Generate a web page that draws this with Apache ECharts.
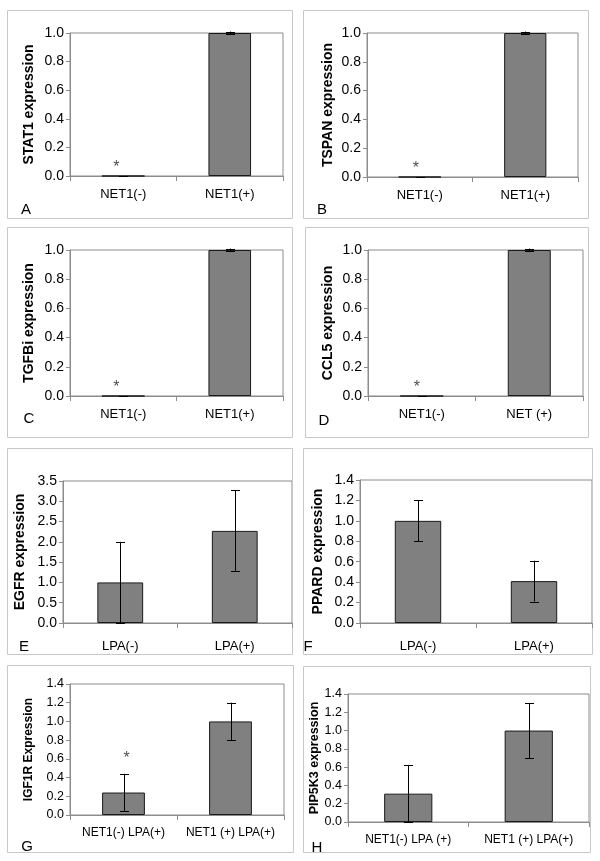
<!DOCTYPE html>
<html><head><meta charset="utf-8">
<script src="https://cdn.jsdelivr.net/npm/echarts/dist/echarts.min.js"></script>
<style>html,body{margin:0;padding:0;background:#fff}#c{width:600px;height:861px}</style>
</head><body><div id="c"></div>
<script>
// ---- data ----
const catsNet = ['NET1(-)', 'NET1(+)'];
const catsCcl5 = ['NET1(-)', 'NET (+)'];
const catsLpa = ['LPA(-)', 'LPA(+)'];
const catsIgf = ['NET1(-) LPA(+)', 'NET1 (+) LPA(+)'];
const catsPip = ['NET1(-) LPA (+)', 'NET1 (+) LPA(+)'];

const stat1Vals = [0, 1.0];   const stat1Err = [0, 0.01];  const stat1Star = [0.06, null];
const tspanVals = [0, 1.0];   const tspanErr = [0, 0.01];  const tspanStar = [0.06, null];
const tgfbiVals = [0, 1.0];   const tgfbiErr = [0, 0.01];  const tgfbiStar = [0.06, null];
const ccl5Vals = [0, 1.0];    const ccl5Err = [0, 0.01];   const ccl5Star = [0.06, null];
const egfrVals = [1.0, 2.27]; const egfrErr = [1.0, 1.0];  const egfrStar = [null, null];
const ppardVals = [1.0, 0.41];const ppardErr = [0.2, 0.2]; const ppardStar = [null, null];
const igf1rVals = [0.24, 1.0];const igf1rErr = [0.2, 0.2]; const igf1rStar = [0.6, null];
const pipVals = [0.31, 1.0];  const pipErr = [0.31, 0.3];  const pipStar = [null, null];

const ticksUnit = [0, 0.2, 0.4, 0.6, 0.8, 1.0];
const ticksEgfr = [0, 0.5, 1.0, 1.5, 2.0, 2.5, 3.0, 3.5];
const ticksLow = [0, 0.2, 0.4, 0.6, 0.8, 1.0, 1.2, 1.4];

const panelLetters = ['A', 'B', 'C', 'D', 'E', 'F', 'G', 'H'];
const yNames = ['STAT1 expression', 'TSPAN expression', 'TGFBi expression', 'CCL5 expression',
  'EGFR expression', 'PPARD expression', 'IGF1R Expression', 'PIP5K3 expression'];

// ---- layout ----
const panels = [
  {cats: catsNet, vals: stat1Vals, err: stat1Err, star: stat1Star, ticks: ticksUnit, starDx: -7,
   plot: [70, 33, 283, 176], box: [7, 10, 292, 218], gap: 34, fs: 13, nfs: 14, tfs: 14, catMargin: 12, letter: [26, 210]},
  {cats: catsNet, vals: tspanVals, err: tspanErr, star: tspanStar, ticks: ticksUnit, starDx: -4,
   plot: [367, 33, 578, 177], box: [303, 10, 588, 218], gap: 32, fs: 13, nfs: 14, tfs: 14, catMargin: 12, letter: [322, 210]},
  {cats: catsNet, vals: tgfbiVals, err: tgfbiErr, star: tgfbiStar, ticks: ticksUnit, starDx: -7,
   plot: [70, 250, 283, 396], box: [7, 227, 292, 437], gap: 34, fs: 13, nfs: 14, tfs: 14, catMargin: 12, letter: [29, 419]},
  {cats: catsCcl5, vals: ccl5Vals, err: ccl5Err, star: ccl5Star, ticks: ticksUnit, starDx: -5,
   plot: [368, 250, 583, 396], box: [305, 227, 588, 437], gap: 33, fs: 13, nfs: 14, tfs: 14, catMargin: 12, letter: [324, 421]},
  {cats: catsLpa, vals: egfrVals, err: egfrErr, star: egfrStar, ticks: ticksEgfr, starDx: 0,
   plot: [63, 481, 292, 623], box: [7, 448, 292, 654], gap: 36, fs: 13, nfs: 14, tfs: 14, catMargin: 17, letter: [24, 647]},
  {cats: catsLpa, vals: ppardVals, err: ppardErr, star: ppardStar, ticks: ticksLow, starDx: 0,
   plot: [360, 480, 592, 623], box: [303, 448, 592, 654], gap: 35, fs: 13, nfs: 14, tfs: 14, catMargin: 17, letter: [308, 647]},
  {cats: catsIgf, vals: igf1rVals, err: igf1rErr, star: igf1rStar, ticks: ticksLow, starDx: 3,
   plot: [70, 684, 284, 815], box: [7, 665, 293, 852], gap: 35, fs: 12, nfs: 12, tfs: 12.5, catMargin: 12, letter: [27, 847]},
  {cats: catsPip, vals: pipVals, err: pipErr, star: pipStar, ticks: ticksLow, starDx: 0,
   plot: [348, 694, 589, 822], box: [303, 666, 590, 852], gap: 26, fs: 12, nfs: 12.5, tfs: 12.5, catMargin: 12, letter: [317, 848]}
];

const FONT = '"Liberation Sans", Arial, sans-serif';
const grid = [], xAxis = [], yAxis = [], series = [], graphic = [];

panels.forEach((p, i) => {
  const [l, t, r, b] = p.plot;
  grid.push({left: l, top: t, width: r - l, height: b - t, show: true,
    borderColor: '#8c8c8c', borderWidth: 1, backgroundColor: 'transparent', containLabel: false});
  xAxis.push({type: 'category', gridIndex: i, data: p.cats,
    axisLine: {lineStyle: {color: '#8c8c8c'}},
    axisTick: {show: true, length: 5, lineStyle: {color: '#8c8c8c'}},
    axisLabel: {color: '#000', fontFamily: FONT, fontSize: p.fs, margin: p.catMargin, interval: 0}});
  const tks = p.ticks;
  yAxis.push({type: 'value', gridIndex: i, min: tks[0], max: tks[tks.length - 1],
    interval: tks[1] - tks[0],
    name: yNames[i], nameLocation: 'middle', nameRotate: 90, nameGap: p.gap,
    nameTextStyle: {color: '#000', fontFamily: FONT, fontSize: p.nfs, fontWeight: 'bold'},
    axisLine: {show: true, lineStyle: {color: '#8c8c8c'}},
    axisTick: {show: true, length: 4, lineStyle: {color: '#8c8c8c'}},
    splitLine: {show: false},
    axisLabel: {color: '#000', fontFamily: FONT, fontSize: p.tfs, margin: 6,
      formatter: v => v.toFixed(1)}});
  series.push({type: 'bar', xAxisIndex: i, yAxisIndex: i, data: p.vals, barWidth: '40%',
    itemStyle: {color: '#808080', borderColor: '#1a1a1a', borderWidth: 1}, z: 2, silent: true});
  series.push({type: 'custom', xAxisIndex: i, yAxisIndex: i, z: 5, silent: true,
    data: p.vals.map((v, k) => [k, Math.max(0, v - p.err[k]), v + p.err[k]]),
    renderItem: (params, api) => {
      const x = api.value(0);
      const lo = api.coord([x, api.value(1)]);
      const hi = api.coord([x, api.value(2)]);
      const cx = Math.round(lo[0]) + 0.5, hw = 4.5;
      const st = {stroke: '#000', lineWidth: 1};
      return {type: 'group', children: [
        {type: 'line', shape: {x1: cx, y1: lo[1], x2: cx, y2: hi[1]}, style: st},
        {type: 'line', shape: {x1: cx - hw, y1: Math.round(lo[1]) + 0.5, x2: cx + hw, y2: Math.round(lo[1]) + 0.5}, style: st},
        {type: 'line', shape: {x1: cx - hw, y1: Math.round(hi[1]) + 0.5, x2: cx + hw, y2: Math.round(hi[1]) + 0.5}, style: st}
      ]};
    }});
  series.push({type: 'scatter', xAxisIndex: i, yAxisIndex: i, symbolSize: 0, z: 6, silent: true,
    data: p.star.map((s, k) => s === null ? null : [k, s]).filter(d => d),
    label: {show: true, position: 'inside', offset: [p.starDx, 0], formatter: '*',
      color: '#222', fontFamily: FONT, fontSize: 16}});
  const [bx1, by1, bx2, by2] = p.box;
  graphic.push({type: 'rect', shape: {x: bx1 + 0.5, y: by1 + 0.5, width: bx2 - bx1, height: by2 - by1},
    style: {fill: 'none', stroke: '#c8c8c8', lineWidth: 1}, z: 0, silent: true});
  graphic.push({type: 'text', x: p.letter[0], y: p.letter[1],
    style: {text: panelLetters[i], fill: '#000', font: '15px ' + FONT, textAlign: 'center', textVerticalAlign: 'middle'},
    silent: true});
});

const chart = echarts.init(document.getElementById('c'), null, {renderer: 'canvas'});
chart.setOption({animation: false, backgroundColor: '#fff', grid, xAxis, yAxis, series, graphic});
</script>
</body></html>
